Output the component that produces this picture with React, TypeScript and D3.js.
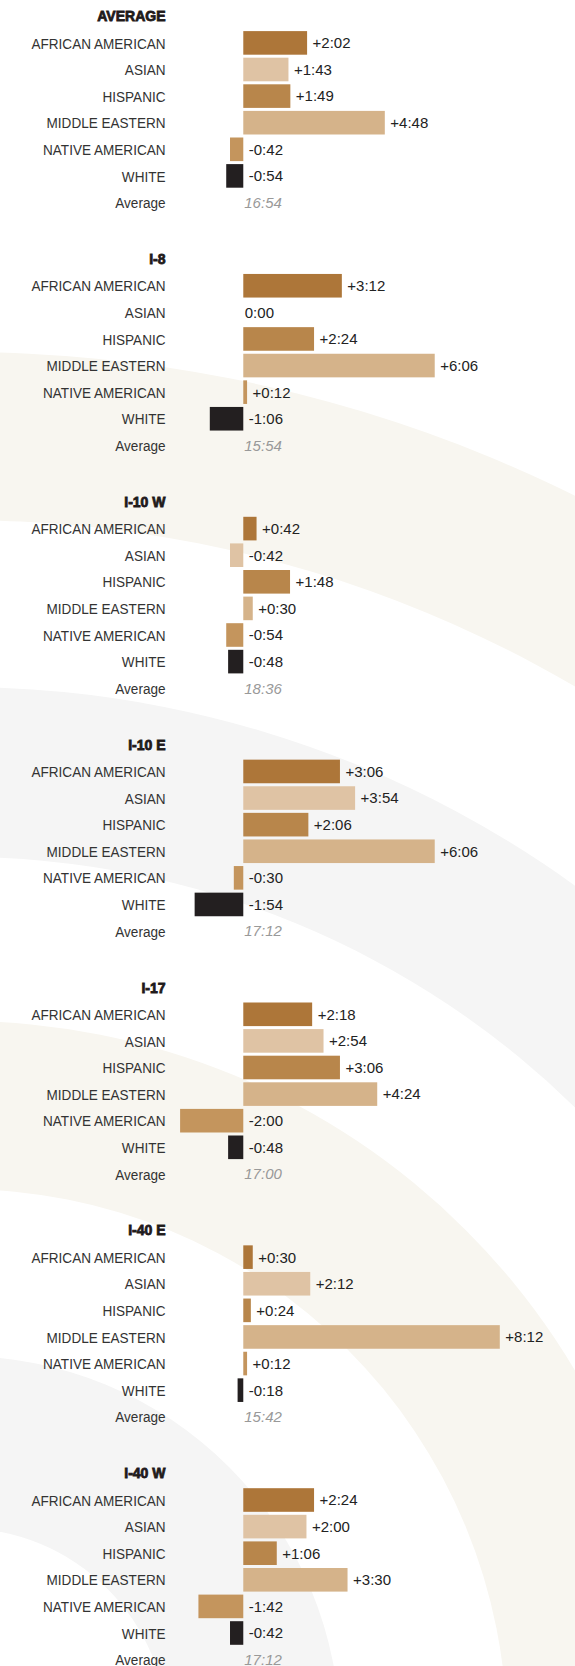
import React from "react";
import * as d3 from "d3";

// ---- Data ----
const sectionNames = ["AVERAGE", "I-8", "I-10 W", "I-10 E", "I-17", "I-40 E", "I-40 W"];
const categories = ["AFRICAN AMERICAN", "ASIAN", "HISPANIC", "MIDDLE EASTERN", "NATIVE AMERICAN", "WHITE"];
const categoryColors = ["#ad7639", "#dfc3a4", "#b8864b", "#d5b38a", "#c4955d", "#231f20"];

// differences vs. average (minutes.seconds, as shown)
const avgAll = [2.02, 1.43, 1.49, 4.48, -0.42, -0.54];
const i8 = [3.12, 0.0, 2.24, 6.06, 0.12, -1.06];
const i10w = [0.42, -0.42, 1.48, 0.3, -0.54, -0.48];
const i10e = [3.06, 3.54, 2.06, 6.06, -0.3, -1.54];
const i17 = [2.18, 2.54, 3.06, 4.24, -2.0, -0.48];
const i40e = [0.3, 2.12, 0.24, 8.12, 0.12, -0.18];
const i40w = [2.24, 2.0, 1.06, 3.3, -1.42, -0.42];
const sectionValues = [avgAll, i8, i10w, i10e, i17, i40e, i40w];

// section average times (minutes.seconds)
const sectionAverages = [16.54, 15.54, 18.36, 17.12, 17.0, 15.42, 17.12];

// background ring bands (inner, outer radius) and colors
const ringBands = [
  [207, 379],
  [546, 714],
  [878, 1048],
  [1215, 1383],
];
const ringColors = ["#f5f5f5", "#f8f6f0", "#f5f5f5", "#f8f6f0"];

const W = 575;
const H = 1666;

const fmtDiff = (v: number) =>
  (v > 0 ? "+" : v < 0 ? "-" : "") + Math.abs(v).toFixed(2).replace(".", ":");
const fmtTime = (v: number) => v.toFixed(2).replace(".", ":");

export default function App() {
  const x = d3.scaleLinear().domain([-2, 8.12]).range([180.1, 499.8]);
  const x0 = x(0);
  const sectionY = d3.scaleLinear().domain([0, 6]).range([42.9, 42.9 + 242.85 * 6]);
  const rowY = d3
    .scalePoint<string>()
    .domain([...categories, "Average"])
    .range([0, 26.6 * 6]);
  const barH = 23.6;
  const arc = d3.arc<any>();
  const cx = -39;
  const cy = 1735;

  const labelFont = "'Liberation Sans', Arial, sans-serif";
  const valueFont = "'Liberation Sans', Arial, sans-serif";
  const labelX = 165.5;

  const CatLabel = ({ y, children }: { y: number; children: React.ReactNode }) => (
    <text
      transform={`translate(${labelX},${y}) scale(0.875,1)`}
      textAnchor="end"
      fontFamily={labelFont}
      fontSize={15.5}
      fill="#333333"
    >
      {children}
    </text>
  );

  return (
    <svg
      width={W}
      height={H}
      style={{ position: "absolute", left: 0, top: 0, background: "#ffffff" }}
    >
      <rect x={0} y={0} width={W} height={H} fill="#ffffff" />
      <g transform={`translate(${cx},${cy})`}>
        {ringBands.map((b, i) => (
          <path
            key={i}
            d={arc({ innerRadius: b[0], outerRadius: b[1], startAngle: 0, endAngle: 2 * Math.PI }) || ""}
            fill={ringColors[i]}
          />
        ))}
      </g>
      {sectionNames.map((name, s) => {
        const top = sectionY(s);
        const vals = sectionValues[s];
        return (
          <g key={name} transform={`translate(0,${top})`}>
            <text
              x={labelX}
              y={-26.9 + 5.2}
              textAnchor="end"
              fontFamily={valueFont}
              fontWeight={700}
              fontSize={14}
              fill="#1f1a1a"
              stroke="#1f1a1a"
              strokeWidth={0.8}
            >
              {name}
            </text>
            {categories.map((c, i) => {
              const v = vals[i];
              const cyRow = rowY(c) as number;
              const xa = x(Math.min(0, v));
              const xb = x(Math.max(0, v));
              const lx = v === 0 ? x0 + 1.5 : x(Math.max(0, v)) + 5.5;
              return (
                <g key={c}>
                  <CatLabel y={cyRow + 5.6}>{c}</CatLabel>
                  {v !== 0 && (
                    <rect
                      x={xa}
                      y={cyRow - barH / 2}
                      width={xb - xa}
                      height={barH}
                      fill={categoryColors[i]}
                    />
                  )}
                  <text
                    x={lx}
                    y={cyRow + 5.4}
                    fontFamily={valueFont}
                    fontSize={15}
                    fill="#222222"
                  >
                    {fmtDiff(v)}
                  </text>
                </g>
              );
            })}
            <CatLabel y={(rowY("Average") as number) + 5.6}>Average</CatLabel>
            <text
              x={x0 + 1}
              y={(rowY("Average") as number) + 5.4}
              fontFamily={valueFont}
              fontStyle="italic"
              fontSize={15}
              fill="#999999"
            >
              {fmtTime(sectionAverages[s])}
            </text>
          </g>
        );
      })}
    </svg>
  );
}
